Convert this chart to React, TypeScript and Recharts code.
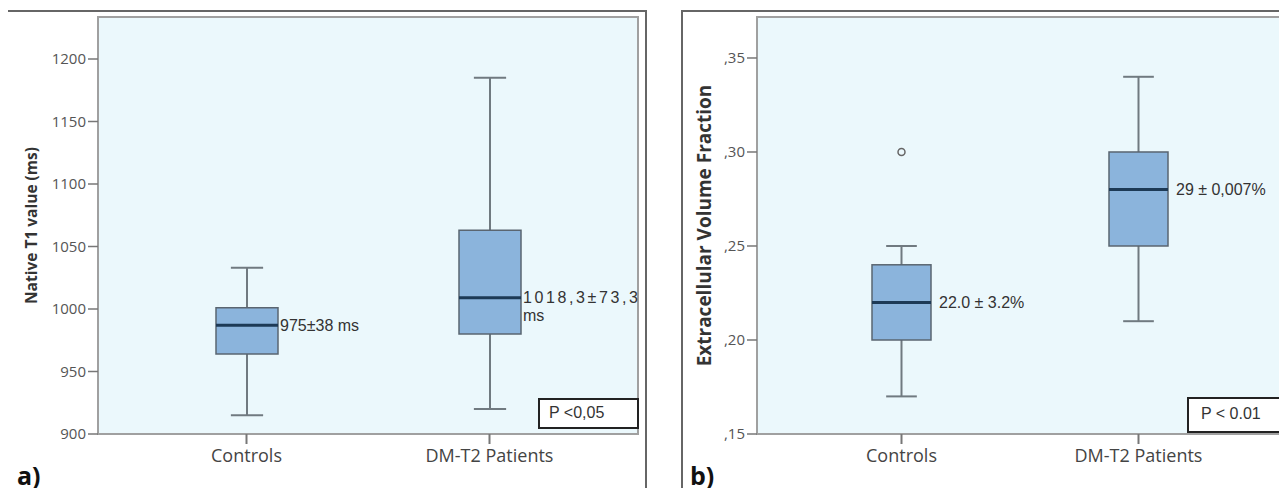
import React from 'react';
import { ComposedChart, Bar, Scatter, XAxis, YAxis, Label } from 'recharts';

// categories shared by both panels
const groups = ['Controls', 'DM-T2 Patients'];

// a) native T1 (ms) – five-number summaries
const t1Min = [915, 920];
const t1Q1 = [964, 980];
const t1Median = [987, 1009];
const t1Q3 = [1001, 1063];
const t1Max = [1033, 1185];
const t1Notes = ['975±38 ms', '1018,3±73,3\nms'];
const t1Ticks = [900, 950, 1000, 1050, 1100, 1150, 1200];

// b) extracellular volume fraction
const ecvMin = [0.17, 0.21];
const ecvQ1 = [0.2, 0.25];
const ecvMedian = [0.22, 0.28];
const ecvQ3 = [0.24, 0.3];
const ecvMax = [0.25, 0.34];
const ecvOutliers: (number | null)[] = [0.3, null];
const ecvNotes = ['22.0 ± 3.2%', '29 ± 0,007%'];
const ecvTicks = [0.15, 0.2, 0.25, 0.3, 0.35];

const buildRows = (
  min: number[], q1: number[], med: number[], q3: number[], max: number[],
  notes: string[], outliers?: (number | null)[]
) =>
  groups.map((g, i) => ({
    group: g,
    range: [min[i], max[i]],
    min: min[i], q1: q1[i], median: med[i], q3: q3[i], max: max[i],
    note: notes[i],
    outlier: outliers ? outliers[i] : null,
  }));

const t1Rows = buildRows(t1Min, t1Q1, t1Median, t1Q3, t1Max, t1Notes);
const ecvRows = buildRows(ecvMin, ecvQ1, ecvMedian, ecvQ3, ecvMax, ecvNotes, ecvOutliers);

const BOX_FILL = '#8bb4dc';
const BOX_STROKE = '#5a6570';
const MEDIAN = '#1d3a56';
const WHISKER = '#707a80';
const GRID_GRAY = '#a0a0a0';
const BG = '#ebf8fc';

// draws whiskers, box, median and the mean±sd note inside the bar's own rectangle
function boxShape(noteGap: number, noteSpacing: number[]) {
  return (props: any) => {
    const { x, y, width, height, payload, index } = props;
    const { min, q1, median, q3, max, note } = payload;
    const py = (v: number) => y + (height * (max - v)) / (max - min);
    const cx = x + width / 2;
    const cap = width * 0.26;
    const lines = String(note).split('\n');
    const ny = py(median) + 5.5;
    return (
      <g>
        <line x1={cx} x2={cx} y1={py(max)} y2={py(min)} stroke={WHISKER} strokeWidth={2} />
        <line x1={cx - cap} x2={cx + cap} y1={py(max)} y2={py(max)} stroke={WHISKER} strokeWidth={2} />
        <line x1={cx - cap} x2={cx + cap} y1={py(min)} y2={py(min)} stroke={WHISKER} strokeWidth={2} />
        <rect x={x} y={py(q3)} width={width} height={py(q1) - py(q3)} fill={BOX_FILL} stroke={BOX_STROKE} strokeWidth={1.5} />
        <line x1={x} x2={x + width} y1={py(median)} y2={py(median)} stroke={MEDIAN} strokeWidth={3} />
        <text
          x={x + width + noteGap}
          y={ny}
          fontFamily="'Liberation Sans', Arial, sans-serif"
          fontSize={16}
          fill="#333"
          letterSpacing={noteSpacing[index] || 0}
        >
          {lines.map((l, k) => (
            <tspan key={k} x={x + width + noteGap} dy={k === 0 ? 0 : 18} letterSpacing={k === 0 ? noteSpacing[index] || 0 : 0}>
              {l}
            </tspan>
          ))}
        </text>
      </g>
    );
  };
}

function yTitle(text: string, cx: number, size: number) {
  return (props: any) => {
    const vb = props.viewBox;
    const cy = vb.y + vb.height / 2;
    return (
      <text
        x={cx}
        y={cy}
        transform={`rotate(-90 ${cx} ${cy})`}
        textAnchor="middle"
        dominantBaseline="central"
        fontFamily="'Open Sans', sans-serif"
        fontWeight={700}
        fontSize={size}
        fill="#333"
      >
        {text}
      </text>
    );
  };
}

const tickStyle = { fontSize: 15, fill: '#555', fontFamily: "'Open Sans', sans-serif" };
const catStyle = { fontSize: 18, fill: '#444', fontFamily: "'Open Sans', sans-serif" };

const outlierShape = (p: any) =>
  p.payload && p.payload.outlier != null ? (
    <circle cx={p.cx} cy={p.cy} r={3.5} fill="none" stroke="#666" strokeWidth={1.5} />
  ) : (
    <g />
  );

export default function App() {
  return (
    <div
      style={{
        position: 'relative',
        width: 1287,
        height: 496,
        margin: -8,
        overflow: 'hidden',
        background: '#fff',
        fontFamily: "'Liberation Sans', Arial, sans-serif",
      }}
    >
      {/* panel frames and plot backgrounds */}
      <div style={{ position: 'absolute', left: 6, top: 10, width: 641, height: 520, border: '2px solid #666', boxSizing: 'border-box' }} />
      <div style={{ position: 'absolute', left: 681, top: 10, width: 700, height: 520, border: '2px solid #666', boxSizing: 'border-box' }} />
      <div style={{ position: 'absolute', left: 97, top: 16, width: 542, height: 419, background: BG, border: `2px solid ${GRID_GRAY}`, boxSizing: 'border-box' }} />
      <div style={{ position: 'absolute', left: 756, top: 16, width: 527, height: 419, background: BG, border: `2px solid ${GRID_GRAY}`, boxSizing: 'border-box' }} />

      <div style={{ position: 'absolute', left: 0, top: 0 }}>
        <ComposedChart width={647} height={496} data={t1Rows} margin={{ top: 17, right: 9, bottom: 0, left: 0 }}>
          <XAxis
            dataKey="group"
            type="category"
            height={62}
            padding={{ left: 27, right: 27 }}
            tick={catStyle}
            tickSize={10}
            tickMargin={5}
            axisLine={{ stroke: GRID_GRAY, strokeWidth: 2 }}
            tickLine={{ stroke: '#777', strokeWidth: 2 }}
          />
          <YAxis
            type="number"
            width={98}
            domain={[900, 1233.6]}
            allowDataOverflow
            ticks={t1Ticks}
            interval={0}
            tick={tickStyle}
            tickSize={10}
            tickMargin={2}
            axisLine={{ stroke: GRID_GRAY, strokeWidth: 2 }}
            tickLine={{ stroke: '#777', strokeWidth: 1.5 }}
          >
            <Label content={yTitle('Native T1 value (ms)', 31, 15.5)} />
          </YAxis>
          <Bar dataKey="range" barSize={62} isAnimationActive={false} shape={boxShape(2, [0, 2.6])} />
        </ComposedChart>
      </div>

      <div style={{ position: 'absolute', left: 647, top: 0 }}>
        <ComposedChart width={640} height={496} data={ecvRows} margin={{ top: 17, right: 5, bottom: 0, left: 0 }}>
          <XAxis
            dataKey="group"
            type="category"
            height={62}
            padding={{ left: 26, right: 25 }}
            tick={catStyle}
            tickSize={10}
            tickMargin={5}
            axisLine={{ stroke: GRID_GRAY, strokeWidth: 2 }}
            tickLine={{ stroke: '#777', strokeWidth: 2 }}
          />
          <YAxis
            type="number"
            width={110}
            domain={[0.15, 0.3718]}
            allowDataOverflow
            ticks={ecvTicks}
            interval={0}
            tickFormatter={(v: number) => ',' + v.toFixed(2).slice(2)}
            tick={tickStyle}
            tickSize={10}
            tickMargin={2}
            axisLine={{ stroke: GRID_GRAY, strokeWidth: 2 }}
            tickLine={{ stroke: '#777', strokeWidth: 1.5 }}
          >
            <Label content={yTitle('Extracellular Volume Fraction', 57, 19)} />
          </YAxis>
          <Bar dataKey="range" barSize={59} isAnimationActive={false} shape={boxShape(8, [0, 0])} />
          <Scatter dataKey="outlier" isAnimationActive={false} shape={outlierShape} />
        </ComposedChart>
      </div>

      {/* significance boxes */}
      <div style={{ position: 'absolute', left: 538, top: 398, width: 101, height: 31, border: '2px solid #222', background: '#fff', boxSizing: 'border-box', fontSize: 16, color: '#333', paddingLeft: 9, lineHeight: '26px' }}>
        P &lt;0,05
      </div>
      <div style={{ position: 'absolute', left: 1187, top: 397, width: 96, height: 36, border: '2px solid #222', background: '#fff', boxSizing: 'border-box', fontSize: 16, color: '#333', paddingLeft: 12, lineHeight: '30px' }}>
        P &lt; 0.01
      </div>

      {/* panel letters */}
      <div style={{ position: 'absolute', left: 17, top: 458, fontSize: 25, fontWeight: 700, color: '#111', fontFamily: "'Open Sans', sans-serif" }}>a)</div>
      <div style={{ position: 'absolute', left: 690, top: 458, fontSize: 25, fontWeight: 700, color: '#111', fontFamily: "'Open Sans', sans-serif" }}>b)</div>
    </div>
  );
}
